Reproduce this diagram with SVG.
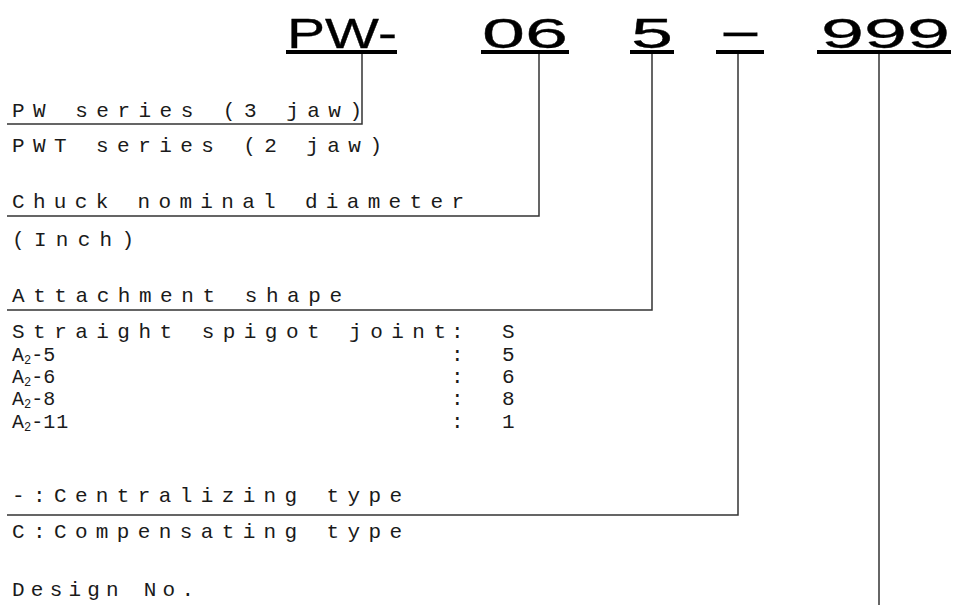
<svg xmlns="http://www.w3.org/2000/svg" width="955" height="605" viewBox="0 0 955 605">
<style>
.t{font-family:"Liberation Mono","DejaVu Sans Mono",monospace;font-size:21px;fill:#1a1a1a}
.a{font-family:"Liberation Mono","DejaVu Sans Mono",monospace;font-size:20px;fill:#1a1a1a}
.sub{font-size:12px}
.h{font-family:"Liberation Sans",Arial,sans-serif;font-size:42px;fill:#000;stroke:#000;stroke-width:0.3}
.ul{stroke:#000;stroke-width:4;fill:none}
.ln{stroke:#333;stroke-width:1.5;fill:none}
</style>
<rect width="955" height="605" fill="#fff"/>
<g id="title">
<text class="h" x="287" y="48" textLength="110" lengthAdjust="spacingAndGlyphs">PW-</text>
<text class="h" x="482" y="48" textLength="86" lengthAdjust="spacingAndGlyphs">06</text>
<text class="h" x="631" y="48" textLength="42" lengthAdjust="spacingAndGlyphs">5</text>
<text class="h" x="718" y="46" textLength="45" lengthAdjust="spacingAndGlyphs">-</text>
<text class="h" x="821" y="48" textLength="129" lengthAdjust="spacingAndGlyphs">999</text>
<line class="ul" x1="286" y1="52" x2="397" y2="52"/>
<line class="ul" x1="481" y1="52" x2="569" y2="52"/>
<line class="ul" x1="630" y1="52" x2="674" y2="52"/>
<line class="ul" x1="716" y1="52" x2="764" y2="52"/>
<line class="ul" x1="817" y1="52" x2="951" y2="52"/>
</g>
<g id="connectors">
<polyline class="ln" points="362,54 362,124 7,124"/>
<polyline class="ln" points="539,54 539,216 7,216"/>
<polyline class="ln" points="652,54 652,310 7,310"/>
<polyline class="ln" points="738,54 738,515 7,515"/>
<line class="ln" x1="879" y1="54" x2="879" y2="605"/>
</g>
<g id="series">
<text class="t" x="12" y="117" textLength="350" lengthAdjust="spacing">PW series (3 jaw)</text>
<text class="t" x="12" y="152" textLength="370" lengthAdjust="spacing">PWT series (2 jaw)</text>
</g>
<g id="diameter">
<text class="t" x="12" y="208" textLength="452" lengthAdjust="spacing">Chuck nominal diameter</text>
<text class="t" x="12" y="246" textLength="122" lengthAdjust="spacing">(Inch)</text>
</g>
<g id="attachment">
<text class="t" x="12" y="302" textLength="330" lengthAdjust="spacing">Attachment shape</text>
<text class="t" x="12" y="338" textLength="434" lengthAdjust="spacing">Straight spigot joint</text>
<text class="a" x="12" y="361">A<tspan class="sub" dy="3">2</tspan><tspan dy="-3">-5</tspan></text>
<text class="a" x="12" y="383">A<tspan class="sub" dy="3">2</tspan><tspan dy="-3">-6</tspan></text>
<text class="a" x="12" y="405">A<tspan class="sub" dy="3">2</tspan><tspan dy="-3">-8</tspan></text>
<text class="a" x="12" y="428">A<tspan class="sub" dy="3">2</tspan><tspan dy="-3">-1</tspan><tspan dx="1">1</tspan></text>
<text class="t" x="451" y="338">:</text>
<text class="t" x="451" y="361">:</text>
<text class="t" x="451" y="383">:</text>
<text class="t" x="451" y="405">:</text>
<text class="t" x="451" y="428">:</text>
<text class="t" x="502" y="338">S</text>
<text class="t" x="502" y="361">5</text>
<text class="t" x="502" y="383">6</text>
<text class="t" x="502" y="405">8</text>
<text class="t" x="502" y="428">1</text>
</g>
<g id="type">
<text class="t" x="12" y="502" textLength="390" lengthAdjust="spacing">-:Centralizing type</text>
<text class="t" x="12" y="538" textLength="390" lengthAdjust="spacing">C:Compensating type</text>
</g>
<g id="design">
<text class="t" x="12" y="596" textLength="182" lengthAdjust="spacing">Design No.</text>
</g>
</svg>
